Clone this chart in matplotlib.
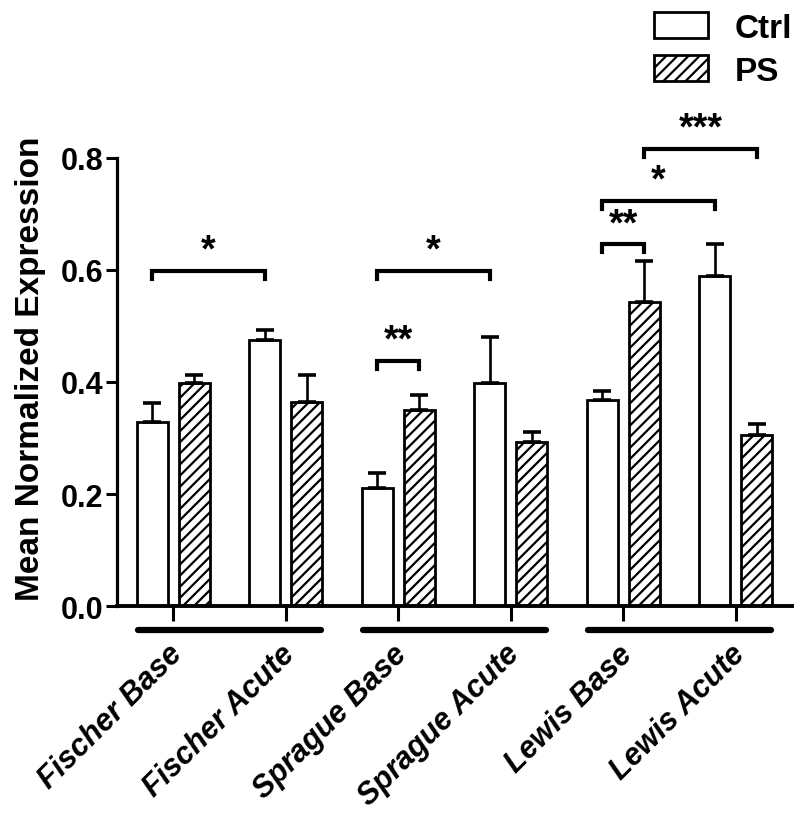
import numpy as np
import matplotlib
matplotlib.use('Agg')
import matplotlib.pyplot as plt
from matplotlib.transforms import ScaledTranslation

plt.rcParams['font.family'] = ['Liberation Sans', 'DejaVu Sans']
plt.rcParams['font.weight'] = 'bold'
plt.rcParams['hatch.linewidth'] = 1.6

# Data
groups = ['Fischer Base', 'Fischer Acute', 'Sprague Base', 'Sprague Acute', 'Lewis Base', 'Lewis Acute']
ctrl_mean = [0.329, 0.475, 0.211, 0.398, 0.368, 0.589]
ctrl_err = [0.033, 0.018, 0.026, 0.082, 0.016, 0.057]
ps_mean = [0.398, 0.364, 0.350, 0.293, 0.543, 0.305]
ps_err = [0.015, 0.048, 0.027, 0.018, 0.073, 0.020]

# significance brackets: (group a, series a, group b, series b, height, label)  series 0=Ctrl, 1=PS
brackets = [
    (0, 0, 1, 0, 0.598, '*'),
    (2, 0, 2, 1, 0.4375, '**'),
    (2, 0, 3, 0, 0.598, '*'),
    (4, 0, 4, 1, 0.646, '**'),
    (4, 0, 5, 0, 0.723, '*'),
    (4, 1, 5, 1, 0.816, '***'),
]
# strain lines under the axis: (first group, last group)
strains = [(0, 1), (2, 3), (4, 5)]

x = np.arange(len(groups))
width = 0.277
offset = 0.1875

fig = plt.figure(figsize=(8, 8.28), dpi=100)
ax = fig.add_axes([0.14625, 0.2669, 0.84375, 0.5749])

err_kw = dict(elinewidth=1.9, capsize=6.5, capthick=2.6, ecolor='black')
b1 = ax.bar(x - offset, ctrl_mean, width, yerr=[np.zeros(6), ctrl_err],
            color='white', edgecolor='black', linewidth=2.0, label='Ctrl',
            error_kw=err_kw, zorder=2)
b2 = ax.bar(x + offset, ps_mean, width, yerr=[np.zeros(6), ps_err],
            color='white', edgecolor='black', linewidth=2.0, hatch='///', label='PS',
            error_kw=err_kw, zorder=2)

ax.set_xlim(-0.5, 5.5)
ax.set_ylim(0, 0.85)

for side in ['top', 'right']:
    ax.spines[side].set_visible(False)
ax.spines['left'].set_bounds(0, 0.8)
ax.spines['left'].set_linewidth(2.3)
ax.spines['bottom'].set_linewidth(2.8)

ax.set_yticks([0.0, 0.2, 0.4, 0.6, 0.8])
ax.set_yticklabels(['0.0', '0.2', '0.4', '0.6', '0.8'], fontsize=22, fontweight='bold')
ax.tick_params(axis='y', length=8, width=2.2, pad=2)

ax.set_xticks(x)
ax.set_xticklabels(groups, fontsize=22, fontweight='bold', fontstyle='italic',
                   rotation=45, ha='right', va='top', rotation_mode='anchor')
ax.tick_params(axis='x', length=11, width=2.2, pad=14)
shift = ScaledTranslation(-6 / 100, 2 / 100, fig.dpi_scale_trans)
for lbl in ax.get_xticklabels():
    lbl.set_transform(lbl.get_transform() + shift)

ax.set_ylabel('Mean Normalized Expression', fontsize=24, fontweight='bold', labelpad=10)

# strain lines below the axis
for a, b in strains:
    c = (x[a] + x[b]) / 2
    ax.plot([c - 0.815, c + 0.815], [-0.043, -0.043], color='black', lw=4.5,
            solid_capstyle='round', clip_on=False)

# brackets
pos = [x - offset, x + offset]
leg = 0.014
for ga, sa, gb, sb, h, lab in brackets:
    xa = pos[sa][ga]
    xb = pos[sb][gb]
    ax.plot([xa, xa, xb, xb], [h - leg, h, h, h - leg], color='black', lw=3.0,
            clip_on=False, solid_joinstyle='miter')
    ax.text((xa + xb) / 2, h + 0.004, lab, ha='center', va='bottom', fontsize=27,
            fontweight='bold', clip_on=False)

fig.legend(handles=[b1, b2], labels=['Ctrl', 'PS'], loc='upper right',
           bbox_to_anchor=(1.015, 1.008), frameon=False, fontsize=24,
           handlelength=1.6, handleheight=0.8, handletextpad=0.8, labelspacing=0.35,
           borderaxespad=0.2)

fig.savefig('out.png', dpi=100)
